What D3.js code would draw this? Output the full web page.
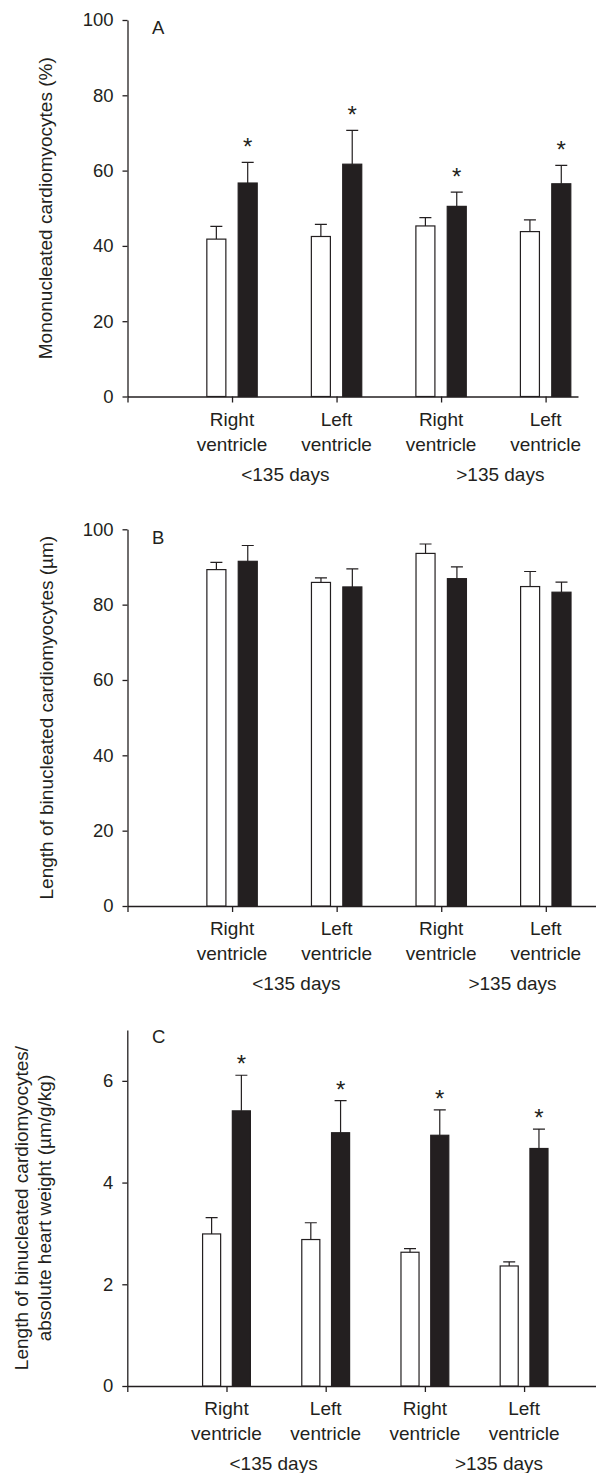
<!DOCTYPE html>
<html>
<head>
<meta charset="utf-8">
<script src="https://cdn.jsdelivr.net/npm/d3@7"></script>
<style>
  body { margin: 0; background: #fff; }
  svg text { font-family: "Liberation Sans", Arial, Helvetica, sans-serif; fill: #231f20; }
  .axis path, .axis line { stroke: #231f20; stroke-width: 1.3; }
  .axis text { font-size: 18.5px; fill: #231f20; }
</style>
</head>
<body>
<div id="chart"></div>
<script>
const categories = [["Right", "ventricle"], ["Left", "ventricle"], ["Right", "ventricle"], ["Left", "ventricle"]];
const ageGroups = ["<135 days", ">135 days"];

// A: mononucleated cardiomyocytes (%)
const monoWhite = [41.8, 42.5, 45.3, 43.8];
const monoWhiteErr = [3.4, 3.2, 2.2, 3.1];
const monoBlack = [56.7, 61.7, 50.5, 56.5];
const monoBlackErr = [5.5, 9.0, 3.8, 4.9];
const monoSig = [true, true, true, true];
const monoTicks = [0, 20, 40, 60, 80, 100];

// B: length of binucleated cardiomyocytes (µm)
const lenWhite = [89.3, 85.9, 93.6, 84.8];
const lenWhiteErr = [1.9, 1.2, 2.5, 4.0];
const lenBlack = [91.5, 84.7, 86.9, 83.3];
const lenBlackErr = [4.2, 4.8, 3.1, 2.7];
const lenSig = [false, false, false, false];
const lenTicks = [0, 20, 40, 60, 80, 100];

// C: length / absolute heart weight (µm/g/kg)
const relWhite = [2.99, 2.88, 2.63, 2.36];
const relWhiteErr = [0.32, 0.33, 0.07, 0.08];
const relBlack = [5.41, 4.98, 4.93, 4.67];
const relBlackErr = [0.70, 0.63, 0.50, 0.38];
const relSig = [true, true, true, true];
const relTicks = [0, 2, 4, 6];

const ctx = {
    W: 596,
    H: 1473,
    INK: "#231f20",
};

function drawPanel(svg, p){
    let g = svg.append("g");
    let x = d3.scaleLinear().domain([0, p.xEnd]).range([p.left, p.right]);
    let y = d3.scaleLinear().domain(p.yDomain).range([p.bottom, p.top]);
    let step = x(1) - x(0);
    let off = step * 0.15, bw = step * 0.182;

    // axes
    g.append("g").attr("class", "axis")
     .attr("transform", `translate(${p.left},0)`)
     .call(d3.axisLeft(y).tickValues(p.ticks).tickFormat(d3.format("d"))
             .tickSize(5).tickPadding(9).tickSizeOuter(0));
    g.append("g").attr("class", "axis")
     .attr("transform", `translate(0,${p.bottom})`)
     .call(d3.axisBottom(x).tickValues(d3.range(0, categories.length + 1)).tickFormat("")
             .tickSize(6).tickSizeOuter(0));

    let series = [
        {vals: p.white, err: p.whiteErr, fill: "#fff", dx: -off},
        {vals: p.black, err: p.blackErr, fill: ctx.INK, dx: off}
    ];
    series.forEach(function(s){
        let sg = g.append("g");
        sg.selectAll("rect").data(s.vals).join("rect")
          .attr("x", (d, i) => x(i + 1) + s.dx - bw / 2)
          .attr("y", d => y(d))
          .attr("width", bw)
          .attr("height", d => y(0) - y(d))
          .attr("fill", s.fill)
          .attr("stroke", ctx.INK)
          .attr("stroke-width", 1.2);
        // error bars, upper half only
        sg.selectAll("path").data(s.vals).join("path")
          .attr("d", function(d, i){
              let cx = x(i + 1) + s.dx, y0 = y(d), y1 = y(d + s.err[i]);
              return `M${cx},${y0}V${y1}M${cx - 6},${y1}H${cx + 6}`;
          })
          .attr("fill", "none")
          .attr("stroke", ctx.INK)
          .attr("stroke-width", 1.2);
    });

    // significance stars
    g.append("g").selectAll("text")
     .data(p.black.map((d, i) => ({v: d + p.blackErr[i], i: i, sig: p.sig[i]})).filter(d => d.sig))
     .join("text")
     .attr("x", d => x(d.i + 1) + off)
     .attr("y", d => y(d.v) - p.starGap)
     .attr("text-anchor", "middle")
     .style("font-size", "24px")
     .text("*");

    // category labels
    let cl = g.append("g").selectAll("text").data(categories).join("text")
              .attr("text-anchor", "middle")
              .style("font-size", "19px");
    cl.append("tspan").attr("x", (d, i) => x(i + 1)).attr("y", p.bottom + 29).text(d => d[0]);
    cl.append("tspan").attr("x", (d, i) => x(i + 1)).attr("y", p.bottom + 54).text(d => d[1]);

    // age group labels
    g.append("g").selectAll("text").data(ageGroups).join("text")
     .attr("x", (d, i) => (x(2 * i + 1) + x(2 * i + 2)) / 2 + p.groupShift[i])
     .attr("y", p.bottom + 84)
     .attr("text-anchor", "middle")
     .style("font-size", "19px")
     .text(d => d);

    // panel letter
    g.append("text")
     .attr("x", 152).attr("y", p.letterY)
     .style("font-size", "18.5px")
     .text(p.letter);

    // y label
    let mid = (p.top + p.bottom) / 2;
    let yl = g.append("text")
              .attr("transform", `translate(0,${mid}) rotate(-90)`)
              .attr("text-anchor", "middle")
              .style("font-size", "19px");
    p.yLabel.forEach(function(line, k){
        yl.append("tspan").attr("x", 0).attr("y", p.yLabelX[k]).text(line);
    });
}

function createViz(){
    let svg = d3.select("#chart").append("svg")
                .attr("width", ctx.W)
                .attr("height", ctx.H);
    svg.append("rect").attr("width", ctx.W).attr("height", ctx.H).attr("fill", "#fff");

    drawPanel(svg, {
        letter: "A", letterY: 33.5,
        white: monoWhite, whiteErr: monoWhiteErr, black: monoBlack, blackErr: monoBlackErr,
        sig: monoSig, ticks: monoTicks, yDomain: [0, 100],
        top: 20, bottom: 396.5, left: 127.5, right: 578, xEnd: 4.31,
        starGap: 7, groupShift: [1, 7],
        yLabel: ["Mononucleated cardiomyocytes (%)"], yLabelX: [52]
    });
    drawPanel(svg, {
        letter: "B", letterY: 543.5,
        white: lenWhite, whiteErr: lenWhiteErr, black: lenBlack, blackErr: lenBlackErr,
        sig: lenSig, ticks: lenTicks, yDomain: [0, 100],
        top: 529.3, bottom: 906, left: 127.5, right: 596, xEnd: 4.48,
        starGap: 7, groupShift: [12, 19],
        yLabel: ["Length of binucleated cardiomyocytes (µm)"], yLabelX: [53]
    });
    drawPanel(svg, {
        letter: "C", letterY: 1043,
        white: relWhite, whiteErr: relWhiteErr, black: relBlack, blackErr: relBlackErr,
        sig: relSig, ticks: relTicks, yDomain: [0, 7],
        top: 1030, bottom: 1386, left: 127.3, right: 596, xEnd: 4.725,
        starGap: 3, groupShift: [-2.5, 24.5],
        yLabel: ["Length of binucleated cardiomyocytes/", "absolute heart weight (µm/g/kg)"], yLabelX: [27.5, 50.8]
    });
}

createViz();
</script>
</body>
</html>
